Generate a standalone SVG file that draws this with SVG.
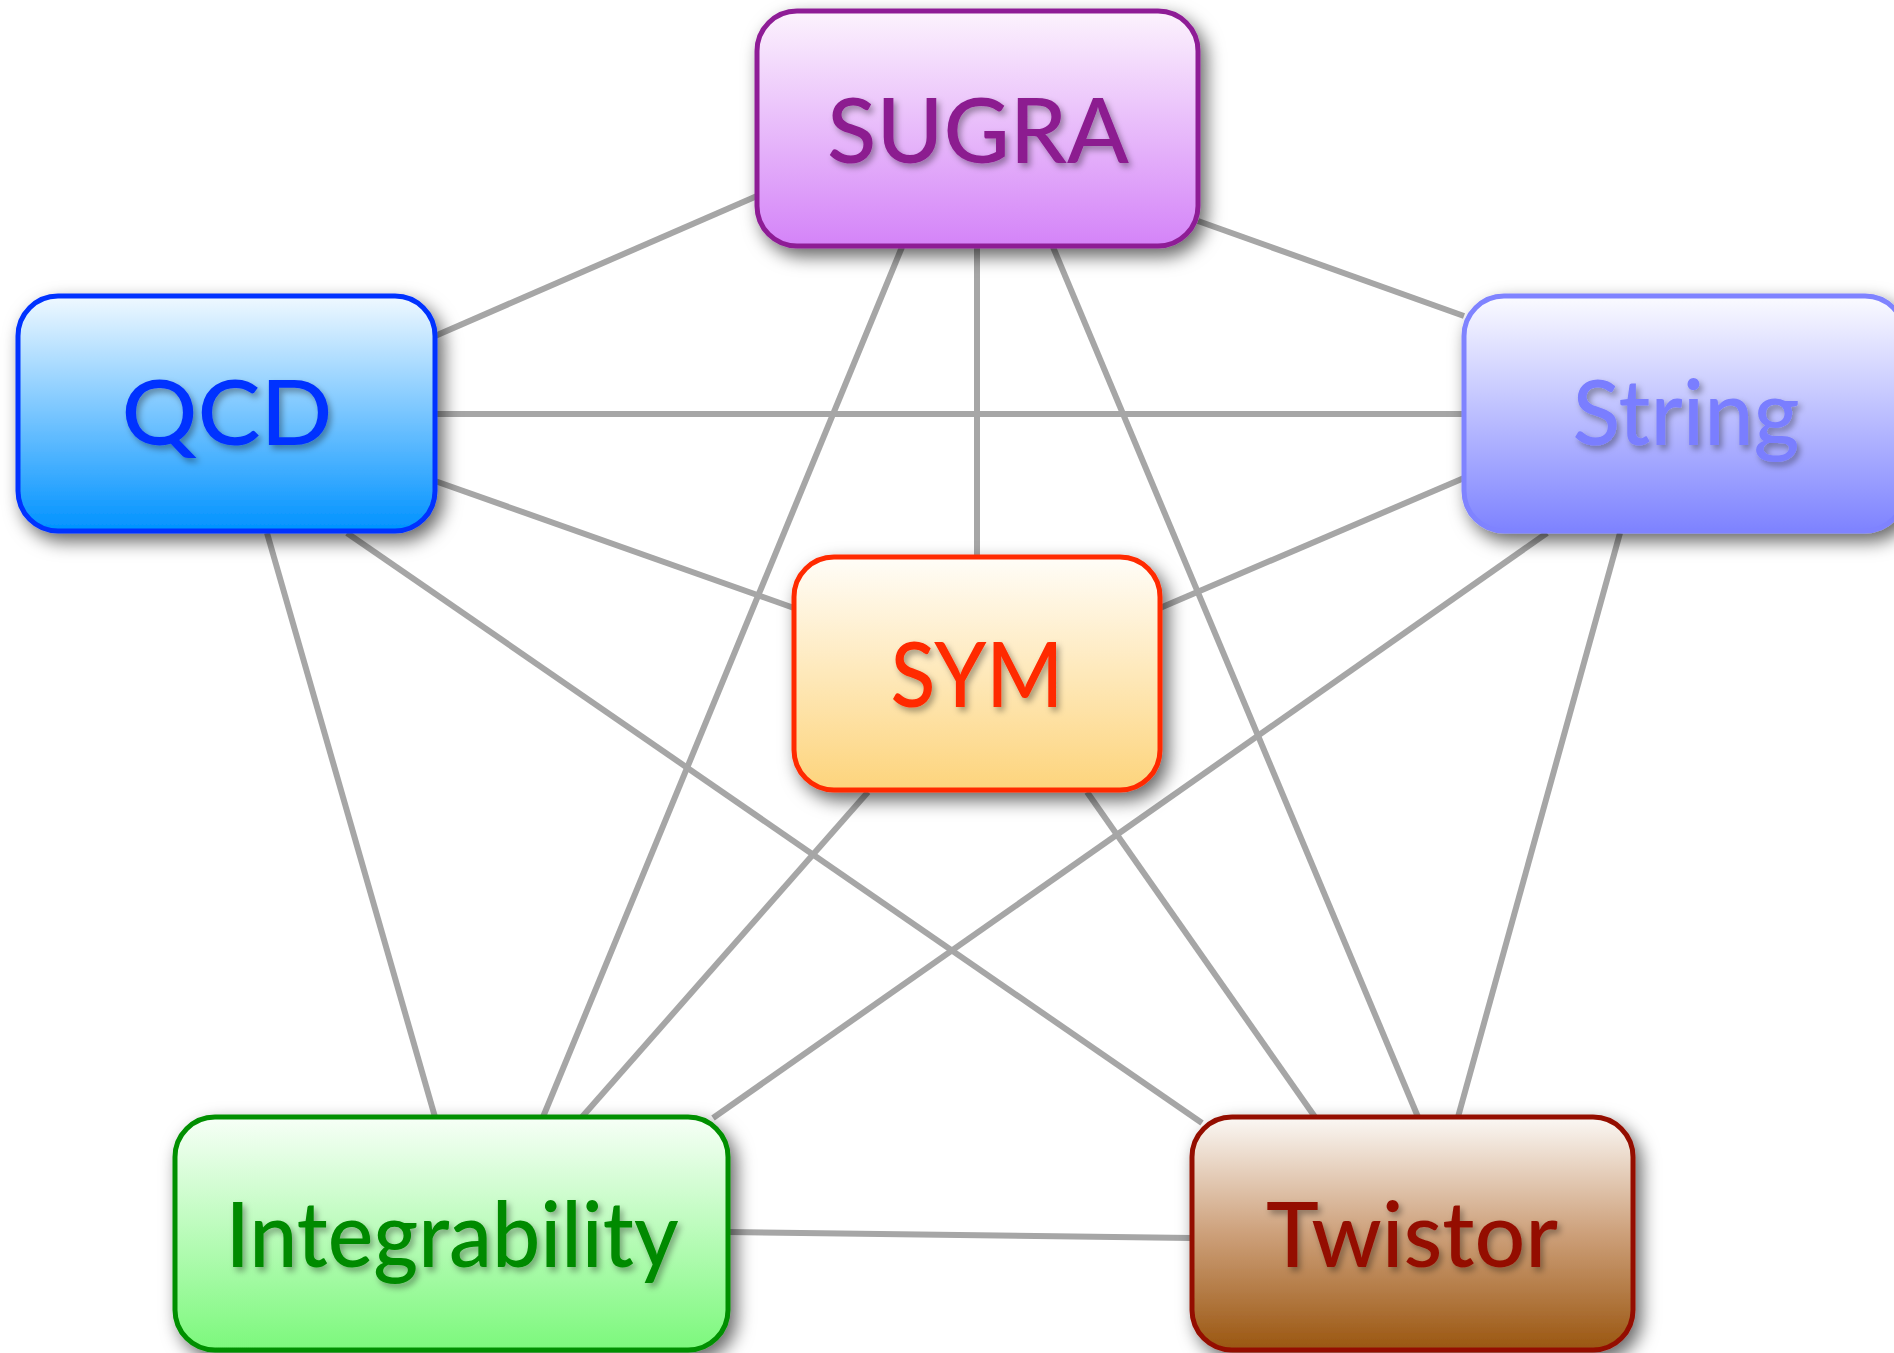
<svg xmlns="http://www.w3.org/2000/svg" width="1894" height="1353" viewBox="0 0 1894 1353">
<defs>
<style>
.edge{stroke:#A6A6A6;stroke-width:6;fill:none;stroke-linecap:butt}
.box{stroke-width:5;filter:url(#bs)}
.lbl{font-family:Lato,"Open Sans","Liberation Sans",sans-serif;font-size:90px;font-weight:500;text-anchor:middle;filter:url(#ts)}
</style>
<filter id="bs" x="-20%" y="-20%" width="150%" height="150%">
<feDropShadow dx="6" dy="8" stdDeviation="9" flood-color="#000" flood-opacity="0.6"/>
</filter>
<filter id="ts" x="-10%" y="-20%" width="130%" height="160%">
<feDropShadow dx="3" dy="4" stdDeviation="3" flood-color="#000" flood-opacity="0.35"/>
</filter>
<linearGradient id="gSugra" x1="0" y1="0" x2="0" y2="1"><stop offset="0" stop-color="#FCF3FD"/><stop offset="1" stop-color="#D483F8"/></linearGradient>
<linearGradient id="gQcd" x1="0" y1="0" x2="0" y2="1"><stop offset="0" stop-color="#F0F9FF"/><stop offset="1" stop-color="#0092FF"/></linearGradient>
<linearGradient id="gString" x1="0" y1="0" x2="0" y2="1"><stop offset="0" stop-color="#FBFBFF"/><stop offset="1" stop-color="#7E83FF"/></linearGradient>
<linearGradient id="gSym" x1="0" y1="0" x2="0" y2="1"><stop offset="0" stop-color="#FFFDF8"/><stop offset="1" stop-color="#FDD47C"/></linearGradient>
<linearGradient id="gInt" x1="0" y1="0" x2="0" y2="1"><stop offset="0" stop-color="#F7FFF7"/><stop offset="1" stop-color="#7CF87C"/></linearGradient>
<linearGradient id="gTw" x1="0" y1="0" x2="0" y2="1"><stop offset="0" stop-color="#FBF8F5"/><stop offset="0.5" stop-color="#CDA07A"/><stop offset="1" stop-color="#9A5610"/></linearGradient>
</defs>
<rect width="1894" height="1353" fill="#FFFFFF"/>
<g id="connectors">
<line class="edge" x1="757" y1="196" x2="435" y2="336"/>
<line class="edge" x1="1198" y1="221" x2="1464" y2="316"/>
<line class="edge" x1="977" y1="246" x2="977" y2="557"/>
<line class="edge" x1="902" y1="247" x2="543" y2="1117"/>
<line class="edge" x1="1053" y1="247" x2="1418" y2="1117"/>
<line class="edge" x1="435" y1="414" x2="1464" y2="414"/>
<line class="edge" x1="435" y1="481" x2="794" y2="608"/>
<line class="edge" x1="267" y1="533" x2="435" y2="1117"/>
<line class="edge" x1="347" y1="533" x2="1202" y2="1123"/>
<line class="edge" x1="1464" y1="478" x2="1160" y2="608"/>
<line class="edge" x1="1547" y1="533" x2="713" y2="1118"/>
<line class="edge" x1="1620" y1="533" x2="1458" y2="1117"/>
<line class="edge" x1="868" y1="792" x2="582" y2="1117"/>
<line class="edge" x1="1087" y1="792" x2="1315" y2="1117"/>
<line class="edge" x1="728" y1="1232" x2="1192" y2="1238"/>
</g>
<g id="node-sugra">
<rect class="box" x="757" y="11" width="441" height="235" rx="40" fill="url(#gSugra)" stroke="#8E1F96"/>
<text class="lbl" x="978" y="163" fill="#8C1E90" textLength="302" lengthAdjust="spacingAndGlyphs">SUGRA</text>
</g>
<g id="node-qcd">
<rect class="box" x="18" y="296" width="417" height="235" rx="40" fill="url(#gQcd)" stroke="#0033FF"/>
<text class="lbl" x="227" y="445" fill="#0033FF" textLength="211" lengthAdjust="spacingAndGlyphs">QCD</text>
</g>
<g id="node-string">
<rect class="box" x="1464" y="296" width="441" height="235" rx="40" fill="url(#gString)" stroke="#7F83FF"/>
<text class="lbl" x="1686" y="445" fill="#7A7EFF" textLength="227" lengthAdjust="spacingAndGlyphs">String</text>
</g>
<g id="node-sym">
<rect class="box" x="794" y="557" width="366" height="233" rx="40" fill="url(#gSym)" stroke="#FF2A00"/>
<text class="lbl" x="977" y="707" fill="#FF2A00" textLength="173" lengthAdjust="spacingAndGlyphs">SYM</text>
</g>
<g id="node-integrability">
<rect class="box" x="175" y="1117" width="553" height="233" rx="40" fill="url(#gInt)" stroke="#008F00"/>
<text class="lbl" x="452" y="1267" fill="#008A00" textLength="453" lengthAdjust="spacingAndGlyphs">Integrability</text>
</g>
<g id="node-twistor">
<rect class="box" x="1192" y="1117" width="441" height="233" rx="40" fill="url(#gTw)" stroke="#941100"/>
<text class="lbl" x="1412" y="1267" fill="#941100" textLength="292" lengthAdjust="spacingAndGlyphs">Twistor</text>
</g>
</svg>
